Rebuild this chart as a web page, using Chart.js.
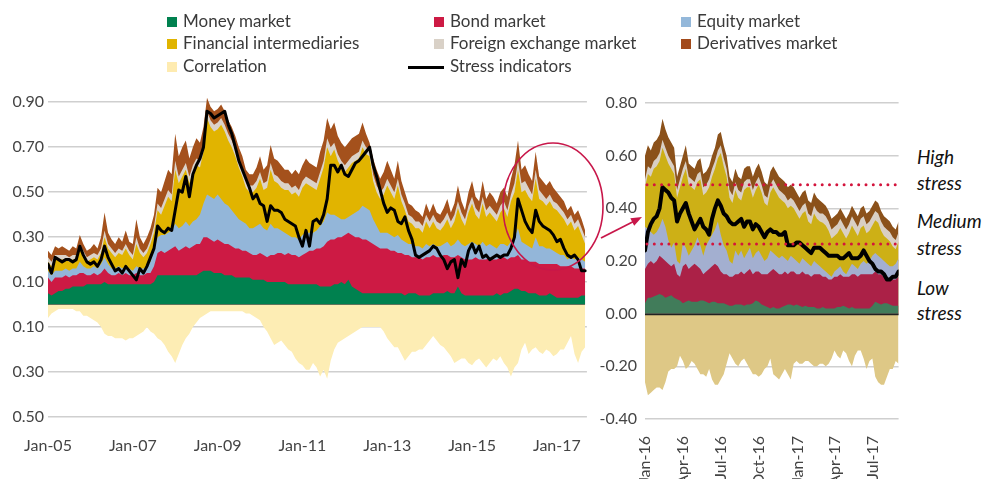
<!DOCTYPE html>
<html><head><meta charset="utf-8">
<script src="https://cdn.jsdelivr.net/npm/chart.js@4.4.1/dist/chart.umd.min.js"></script>
<style>
html,body{margin:0;padding:0;background:#fff;overflow:hidden;width:989px;height:482px;}
#wrap{position:relative;width:989px;height:482px;overflow:hidden;font-family:Lato,'Liberation Sans',Arial,sans-serif;color:#3c3c3c;}
#leftClip{position:absolute;left:12px;top:0;width:600px;height:482px;overflow:hidden;}
#cLeft{position:absolute;left:-22px;top:0;}
#cRight{position:absolute;left:590px;top:0;}
.lg{position:absolute;font-size:17px;line-height:20px;white-space:nowrap;color:#3a3a3a}
.sw{position:absolute;width:10px;height:10px}
.ann{position:absolute;left:917px;font-style:italic;font-size:19px;line-height:24px;color:#111;white-space:nowrap}
#ov{position:absolute;left:0;top:0;z-index:5}
</style></head>
<body><div id="wrap">
<div id="leftClip"><canvas id="cLeft" width="610" height="482"></canvas></div>
<canvas id="cRight" width="320" height="500"></canvas>
<svg id="ov" width="989" height="482" viewBox="0 0 989 482">
  <ellipse cx="553" cy="206.5" rx="50" ry="63.5" fill="none" stroke="#c8174a" stroke-width="1.6"/>
  <line x1="601" y1="238" x2="634" y2="221.2" stroke="#c8174a" stroke-width="1.8"/>
  <polygon points="642,217 630.3,218.3 634.2,225.8" fill="#c8174a"/>
</svg>
</div>
<script>
// ---------- Legend ----------
const seriesNames = ['Money market','Bond market','Equity market','Financial intermediaries','Foreign exchange market','Derivatives market','Correlation','Stress indicators'];
const legendColors = ['#00814f','#cd1a44','#94b8da','#e0b400','#d9d1c7','#a24a1b','#feebb0','#000000'];

// ---------- Left panel (monthly, Jan-05 .. Sep-17), stacked levels ----------
const leftTickMonths = [0,24,48,72,96,120,144];
const leftTickLabels = ['Jan-05','Jan-07','Jan-09','Jan-11','Jan-13','Jan-15','Jan-17'];
const leftYTicks = [-0.5,-0.3,-0.1,0.1,0.3,0.5,0.7,0.9];

const moneyLevel = [0.05,0.04,0.05,0.06,0.06,0.07,0.07,0.08,0.08,0.08,0.08,0.09,
 0.09,0.09,0.09,0.09,0.10,0.09,0.09,0.09,0.09,0.09,0.09,0.09,
 0.09,0.09,0.09,0.09,0.09,0.09,0.10,0.13,0.13,0.13,0.13,0.13,
 0.13,0.13,0.13,0.13,0.13,0.13,0.13,0.14,0.15,0.15,0.15,0.14,
 0.14,0.14,0.13,0.13,0.13,0.12,0.12,0.12,0.12,0.12,0.11,0.11,
 0.11,0.11,0.10,0.10,0.10,0.10,0.10,0.10,0.09,0.09,0.09,0.09,
 0.09,0.09,0.09,0.09,0.09,0.08,0.08,0.08,0.08,0.09,0.09,0.10,
 0.09,0.11,0.08,0.07,0.06,0.05,0.05,0.05,0.05,0.05,0.05,0.05,
 0.05,0.05,0.05,0.05,0.05,0.04,0.05,0.05,0.05,0.04,0.04,0.04,
 0.04,0.05,0.05,0.05,0.05,0.06,0.05,0.05,0.08,0.05,0.04,0.04,
 0.04,0.04,0.04,0.04,0.04,0.04,0.04,0.05,0.04,0.05,0.05,0.06,
 0.07,0.07,0.06,0.06,0.05,0.05,0.05,0.04,0.04,0.04,0.05,0.04,
 0.03,0.03,0.03,0.03,0.03,0.03,0.03,0.04,0.04];
const bondLevel = [0.12,0.10,0.12,0.12,0.12,0.13,0.12,0.13,0.13,0.14,0.14,0.13,
 0.13,0.14,0.13,0.14,0.16,0.14,0.13,0.13,0.14,0.13,0.14,0.13,
 0.13,0.14,0.13,0.13,0.14,0.14,0.17,0.23,0.24,0.23,0.24,0.25,
 0.26,0.24,0.25,0.26,0.25,0.26,0.27,0.27,0.30,0.30,0.29,0.28,
 0.29,0.28,0.27,0.27,0.26,0.25,0.25,0.24,0.24,0.23,0.22,0.22,
 0.23,0.22,0.21,0.22,0.22,0.23,0.23,0.22,0.23,0.22,0.22,0.21,
 0.22,0.23,0.24,0.24,0.25,0.25,0.26,0.28,0.29,0.29,0.30,0.30,
 0.31,0.32,0.31,0.30,0.30,0.29,0.29,0.28,0.27,0.26,0.25,0.25,
 0.25,0.24,0.24,0.23,0.23,0.22,0.22,0.21,0.21,0.21,0.20,0.21,
 0.21,0.22,0.21,0.21,0.22,0.22,0.21,0.21,0.22,0.21,0.20,0.20,
 0.20,0.21,0.20,0.20,0.20,0.21,0.20,0.20,0.21,0.21,0.20,0.21,
 0.21,0.22,0.20,0.20,0.19,0.19,0.19,0.18,0.18,0.18,0.18,0.18,
 0.18,0.17,0.17,0.17,0.17,0.16,0.16,0.16,0.16];
const equityLevel = [0.15,0.13,0.15,0.15,0.15,0.16,0.15,0.16,0.16,0.19,0.17,0.16,
 0.16,0.17,0.16,0.18,0.21,0.18,0.16,0.16,0.17,0.16,0.17,0.16,
 0.15,0.17,0.16,0.16,0.17,0.19,0.24,0.30,0.31,0.31,0.32,0.33,
 0.36,0.34,0.35,0.37,0.35,0.37,0.38,0.40,0.45,0.49,0.48,0.47,
 0.49,0.47,0.45,0.44,0.42,0.40,0.38,0.37,0.36,0.34,0.34,0.35,
 0.36,0.34,0.33,0.36,0.34,0.34,0.33,0.32,0.31,0.30,0.30,0.29,
 0.31,0.32,0.32,0.32,0.33,0.35,0.37,0.41,0.40,0.40,0.39,0.38,
 0.38,0.39,0.40,0.41,0.42,0.44,0.43,0.42,0.38,0.35,0.32,0.32,
 0.32,0.31,0.30,0.31,0.29,0.28,0.27,0.27,0.26,0.26,0.25,0.27,
 0.26,0.27,0.26,0.26,0.27,0.28,0.26,0.27,0.29,0.27,0.26,0.27,
 0.28,0.27,0.26,0.28,0.26,0.27,0.26,0.25,0.27,0.27,0.26,0.28,
 0.30,0.34,0.28,0.27,0.26,0.25,0.30,0.26,0.26,0.25,0.25,0.24,
 0.23,0.22,0.22,0.20,0.21,0.20,0.21,0.20,0.19];
const finIntLevel = [0.19,0.17,0.20,0.20,0.20,0.20,0.19,0.20,0.20,0.25,0.22,0.19,
 0.20,0.21,0.20,0.23,0.30,0.25,0.23,0.21,0.23,0.22,0.25,0.22,
 0.20,0.27,0.23,0.21,0.23,0.27,0.32,0.42,0.40,0.44,0.48,0.46,
 0.60,0.54,0.57,0.60,0.54,0.59,0.62,0.61,0.68,0.83,0.79,0.77,
 0.78,0.80,0.77,0.73,0.70,0.66,0.61,0.57,0.52,0.50,0.50,0.52,
 0.56,0.51,0.52,0.60,0.55,0.54,0.52,0.51,0.51,0.49,0.50,0.48,
 0.52,0.54,0.53,0.52,0.51,0.56,0.61,0.70,0.66,0.69,0.64,0.61,
 0.59,0.61,0.63,0.64,0.65,0.70,0.67,0.66,0.55,0.50,0.47,0.49,
 0.53,0.50,0.47,0.53,0.46,0.42,0.37,0.36,0.34,0.34,0.32,0.37,
 0.34,0.37,0.34,0.33,0.35,0.38,0.34,0.37,0.43,0.38,0.35,0.41,
 0.45,0.40,0.38,0.45,0.39,0.41,0.39,0.37,0.41,0.43,0.39,0.46,
 0.50,0.60,0.50,0.51,0.48,0.46,0.56,0.47,0.46,0.44,0.46,0.43,
 0.42,0.40,0.38,0.35,0.37,0.33,0.35,0.31,0.27];
const fxLevel = [0.21,0.19,0.22,0.22,0.22,0.22,0.21,0.22,0.22,0.27,0.24,0.21,
 0.22,0.23,0.22,0.25,0.33,0.27,0.25,0.23,0.25,0.24,0.27,0.24,
 0.22,0.30,0.25,0.23,0.25,0.29,0.35,0.45,0.43,0.47,0.51,0.49,
 0.64,0.57,0.60,0.63,0.57,0.62,0.65,0.64,0.72,0.86,0.82,0.80,
 0.81,0.83,0.80,0.76,0.73,0.69,0.64,0.60,0.55,0.53,0.53,0.55,
 0.59,0.54,0.55,0.63,0.58,0.57,0.55,0.54,0.54,0.52,0.53,0.51,
 0.55,0.57,0.56,0.55,0.54,0.59,0.64,0.74,0.70,0.72,0.67,0.64,
 0.62,0.64,0.66,0.67,0.68,0.73,0.70,0.69,0.58,0.53,0.50,0.52,
 0.56,0.53,0.50,0.56,0.49,0.45,0.40,0.39,0.37,0.37,0.35,0.40,
 0.37,0.40,0.37,0.36,0.38,0.41,0.37,0.40,0.46,0.41,0.38,0.44,
 0.48,0.43,0.41,0.48,0.42,0.44,0.42,0.40,0.44,0.46,0.42,0.49,
 0.54,0.64,0.54,0.55,0.52,0.49,0.60,0.51,0.49,0.47,0.49,0.46,
 0.45,0.43,0.41,0.38,0.40,0.36,0.38,0.34,0.30];
const derivLevel = [0.24,0.22,0.26,0.25,0.26,0.25,0.24,0.26,0.25,0.31,0.27,0.24,
 0.25,0.27,0.25,0.30,0.41,0.32,0.29,0.27,0.30,0.28,0.33,0.28,
 0.27,0.38,0.30,0.27,0.30,0.34,0.40,0.52,0.50,0.55,0.60,0.58,
 0.76,0.66,0.70,0.73,0.65,0.70,0.74,0.72,0.79,0.92,0.88,0.86,
 0.87,0.89,0.86,0.82,0.79,0.75,0.70,0.66,0.60,0.58,0.58,0.61,
 0.66,0.60,0.62,0.71,0.65,0.64,0.62,0.60,0.60,0.58,0.60,0.58,
 0.62,0.65,0.63,0.62,0.61,0.68,0.73,0.83,0.78,0.81,0.75,0.72,
 0.70,0.72,0.74,0.75,0.76,0.81,0.76,0.72,0.65,0.60,0.56,0.59,
 0.64,0.60,0.56,0.64,0.55,0.50,0.45,0.44,0.42,0.41,0.39,0.45,
 0.41,0.45,0.41,0.40,0.43,0.47,0.41,0.45,0.53,0.46,0.42,0.50,
 0.55,0.48,0.46,0.55,0.47,0.50,0.48,0.45,0.50,0.52,0.48,0.56,
 0.62,0.73,0.60,0.62,0.58,0.55,0.68,0.57,0.55,0.53,0.55,0.52,
 0.50,0.48,0.46,0.42,0.44,0.40,0.42,0.38,0.33];
const correlation = [-0.06,-0.04,-0.03,-0.02,-0.02,-0.02,-0.02,-0.02,-0.03,-0.03,-0.05,-0.05,
 -0.06,-0.07,-0.08,-0.10,-0.13,-0.14,-0.14,-0.15,-0.15,-0.15,-0.16,-0.15,
 -0.15,-0.14,-0.13,-0.12,-0.10,-0.12,-0.13,-0.15,-0.16,-0.18,-0.21,-0.23,
 -0.26,-0.22,-0.18,-0.15,-0.13,-0.10,-0.08,-0.06,-0.05,-0.04,-0.03,-0.03,
 -0.03,-0.03,-0.03,-0.03,-0.03,-0.03,-0.03,-0.03,-0.04,-0.04,-0.05,-0.06,
 -0.07,-0.10,-0.12,-0.15,-0.18,-0.17,-0.16,-0.18,-0.20,-0.21,-0.24,-0.26,
 -0.27,-0.29,-0.29,-0.26,-0.28,-0.32,-0.29,-0.33,-0.25,-0.20,-0.17,-0.16,
 -0.15,-0.14,-0.13,-0.12,-0.11,-0.10,-0.10,-0.10,-0.10,-0.10,-0.10,-0.12,
 -0.15,-0.17,-0.19,-0.19,-0.22,-0.25,-0.23,-0.21,-0.21,-0.20,-0.20,-0.18,
 -0.16,-0.14,-0.16,-0.18,-0.19,-0.21,-0.23,-0.26,-0.25,-0.24,-0.24,-0.26,
 -0.27,-0.25,-0.24,-0.26,-0.28,-0.26,-0.24,-0.25,-0.23,-0.26,-0.28,-0.32,
 -0.28,-0.26,-0.20,-0.17,-0.22,-0.20,-0.19,-0.21,-0.22,-0.20,-0.21,-0.23,
 -0.22,-0.20,-0.20,-0.17,-0.14,-0.22,-0.26,-0.21,-0.19];
const stressIndicator = [0.18,0.14,0.21,0.20,0.19,0.20,0.20,0.19,0.20,0.26,0.22,0.19,
 0.18,0.19,0.17,0.20,0.26,0.21,0.18,0.15,0.16,0.14,0.17,0.15,
 0.13,0.11,0.16,0.14,0.17,0.21,0.25,0.35,0.33,0.32,0.34,0.33,
 0.42,0.51,0.50,0.57,0.48,0.58,0.62,0.65,0.70,0.86,0.85,0.83,
 0.84,0.85,0.86,0.80,0.76,0.70,0.64,0.60,0.56,0.52,0.47,0.49,
 0.45,0.44,0.37,0.44,0.42,0.42,0.41,0.38,0.37,0.36,0.35,0.30,
 0.26,0.33,0.26,0.37,0.38,0.36,0.40,0.47,0.62,0.62,0.59,0.62,
 0.58,0.57,0.60,0.63,0.64,0.66,0.68,0.70,0.62,0.57,0.51,0.45,
 0.41,0.43,0.42,0.37,0.36,0.39,0.33,0.29,0.22,0.21,0.22,0.23,
 0.24,0.26,0.25,0.22,0.20,0.16,0.19,0.20,0.12,0.20,0.17,0.24,
 0.27,0.23,0.26,0.21,0.22,0.20,0.21,0.22,0.21,0.22,0.22,0.25,
 0.30,0.47,0.42,0.37,0.34,0.32,0.42,0.37,0.35,0.34,0.33,0.31,
 0.28,0.29,0.25,0.22,0.21,0.22,0.20,0.15,0.15];
const leftColors = ['#00814f','#cd1a44','#93b6d9','#e1b400','#dbd3c9','#a4511c','#fdedb4'];

// ---------- Right panel (weekly, Jan-16 .. Aug-17) ----------
const zoomTickDays = [0,91,182,274,366,456,547];
const zoomTickLabels = ['Jan-16','Apr-16','Jul-16','Oct-16','Jan-17','Apr-17','Jul-17'];
const zoomYTicks = [-0.4,-0.2,0,0.2,0.4,0.6,0.8];
const stressThresholds = [0.265, 0.49];

const zMoney = [0.04,0.06,0.06,0.065,0.07,0.075,0.07,0.06,0.065,0.07,
 0.06,0.055,0.05,0.04,0.045,0.05,0.045,0.045,0.045,0.05,
 0.05,0.045,0.04,0.045,0.045,0.04,0.04,0.04,0.035,0.03,
 0.03,0.035,0.035,0.035,0.03,0.035,0.035,0.04,0.05,0.045,
 0.035,0.03,0.025,0.02,0.025,0.02,0.02,0.025,0.03,0.035,
 0.035,0.03,0.035,0.03,0.025,0.03,0.025,0.025,0.025,0.02,
 0.02,0.025,0.02,0.02,0.02,0.02,0.025,0.025,0.03,0.025,
 0.02,0.025,0.02,0.02,0.02,0.02,0.02,0.02,0.03,0.045,
 0.04,0.035,0.04,0.04,0.035,0.03,0.03,0.03];
const zBond = [0.17,0.19,0.20,0.19,0.20,0.22,0.21,0.20,0.19,0.18,
 0.19,0.15,0.14,0.18,0.19,0.17,0.18,0.19,0.18,0.17,
 0.15,0.16,0.17,0.18,0.19,0.18,0.16,0.15,0.15,0.14,
 0.14,0.15,0.15,0.16,0.15,0.16,0.17,0.15,0.16,0.16,
 0.15,0.15,0.15,0.16,0.17,0.16,0.15,0.15,0.16,0.15,
 0.16,0.16,0.15,0.15,0.16,0.15,0.15,0.14,0.15,0.15,
 0.15,0.14,0.14,0.13,0.13,0.14,0.14,0.15,0.14,0.14,
 0.14,0.15,0.15,0.14,0.15,0.15,0.15,0.15,0.15,0.16,
 0.15,0.15,0.14,0.14,0.13,0.13,0.13,0.14];
const zEquity = [0.33,0.32,0.31,0.30,0.31,0.33,0.36,0.33,0.28,0.25,
 0.27,0.20,0.19,0.27,0.25,0.22,0.24,0.26,0.29,0.26,
 0.22,0.26,0.28,0.30,0.32,0.35,0.30,0.26,0.24,0.20,
 0.19,0.24,0.22,0.24,0.21,0.23,0.25,0.21,0.23,0.24,
 0.22,0.20,0.21,0.24,0.23,0.22,0.21,0.22,0.21,0.20,
 0.22,0.21,0.20,0.19,0.21,0.20,0.19,0.18,0.20,0.19,
 0.18,0.17,0.16,0.15,0.14,0.16,0.17,0.18,0.16,0.15,
 0.17,0.19,0.18,0.17,0.19,0.20,0.19,0.20,0.22,0.23,
 0.22,0.21,0.20,0.19,0.18,0.18,0.19,0.21];
const zFinInt = [0.48,0.53,0.52,0.55,0.56,0.58,0.63,0.60,0.57,0.55,
 0.53,0.44,0.48,0.52,0.55,0.49,0.48,0.47,0.50,0.51,
 0.45,0.46,0.48,0.52,0.55,0.59,0.61,0.56,0.52,0.44,
 0.42,0.47,0.44,0.43,0.47,0.48,0.48,0.44,0.47,0.49,
 0.46,0.42,0.41,0.46,0.48,0.46,0.44,0.43,0.42,0.40,
 0.41,0.40,0.38,0.36,0.38,0.39,0.35,0.34,0.38,0.36,
 0.35,0.345,0.335,0.315,0.285,0.295,0.305,0.325,0.305,0.285,
 0.305,0.335,0.315,0.295,0.325,0.335,0.305,0.315,0.335,0.355,
 0.345,0.315,0.295,0.285,0.275,0.255,0.245,0.275];
const zFx = [0.51,0.56,0.55,0.58,0.59,0.61,0.66,0.63,0.60,0.58,
 0.56,0.47,0.51,0.55,0.58,0.52,0.51,0.50,0.53,0.54,
 0.48,0.49,0.51,0.55,0.58,0.62,0.64,0.59,0.55,0.47,
 0.45,0.50,0.47,0.46,0.50,0.51,0.51,0.47,0.50,0.52,
 0.49,0.45,0.44,0.49,0.51,0.49,0.47,0.46,0.45,0.43,
 0.44,0.43,0.41,0.39,0.41,0.42,0.38,0.37,0.41,0.39,
 0.38,0.38,0.37,0.35,0.32,0.33,0.34,0.36,0.34,0.32,
 0.34,0.37,0.35,0.33,0.36,0.37,0.34,0.35,0.37,0.39,
 0.38,0.35,0.33,0.32,0.31,0.29,0.28,0.31];
const zDeriv = [0.60,0.64,0.62,0.65,0.66,0.68,0.74,0.70,0.67,0.65,
 0.63,0.52,0.56,0.60,0.64,0.57,0.56,0.55,0.58,0.59,
 0.53,0.54,0.56,0.60,0.63,0.68,0.69,0.64,0.60,0.52,
 0.50,0.55,0.52,0.51,0.55,0.56,0.56,0.52,0.55,0.57,
 0.54,0.50,0.49,0.54,0.56,0.54,0.52,0.51,0.50,0.48,
 0.49,0.48,0.46,0.44,0.46,0.47,0.43,0.42,0.46,0.44,
 0.43,0.42,0.41,0.39,0.36,0.37,0.38,0.40,0.38,0.36,
 0.38,0.41,0.39,0.37,0.40,0.41,0.38,0.39,0.41,0.43,
 0.42,0.39,0.37,0.36,0.35,0.33,0.32,0.35];
const zCorrelation = [-0.26,-0.31,-0.30,-0.29,-0.28,-0.28,-0.29,-0.26,-0.22,-0.21,
 -0.21,-0.20,-0.16,-0.18,-0.21,-0.20,-0.18,-0.19,-0.21,-0.23,
 -0.23,-0.24,-0.21,-0.25,-0.27,-0.27,-0.25,-0.23,-0.19,-0.15,
 -0.17,-0.19,-0.20,-0.18,-0.17,-0.19,-0.21,-0.23,-0.23,-0.24,
 -0.23,-0.21,-0.20,-0.17,-0.23,-0.24,-0.25,-0.23,-0.21,-0.23,
 -0.25,-0.19,-0.18,-0.19,-0.19,-0.18,-0.18,-0.19,-0.20,-0.20,
 -0.19,-0.19,-0.20,-0.19,-0.17,-0.14,-0.16,-0.17,-0.14,-0.15,
 -0.18,-0.20,-0.16,-0.14,-0.14,-0.17,-0.21,-0.18,-0.17,-0.24,
 -0.26,-0.27,-0.27,-0.24,-0.21,-0.21,-0.18,-0.19];
const zStress = [0.24,0.31,0.34,0.36,0.37,0.40,0.48,0.47,0.46,0.44,
 0.43,0.35,0.38,0.40,0.42,0.38,0.35,0.32,0.34,0.36,
 0.33,0.32,0.30,0.36,0.40,0.43,0.41,0.38,0.37,0.35,
 0.34,0.34,0.35,0.36,0.33,0.35,0.35,0.32,0.34,0.33,
 0.31,0.29,0.31,0.32,0.31,0.31,0.30,0.30,0.31,0.26,
 0.26,0.26,0.27,0.27,0.26,0.25,0.24,0.23,0.25,0.25,
 0.25,0.24,0.23,0.22,0.22,0.22,0.22,0.21,0.21,0.22,
 0.23,0.21,0.21,0.21,0.22,0.24,0.22,0.20,0.19,0.17,
 0.16,0.16,0.15,0.13,0.13,0.14,0.14,0.16];
const zoomColors = ['#417c5a','#ab2147','#a3afd0','#cdb016','#d9cfc4','#8b511a','#dec886'];

// ---------- helpers ----------
const FONT = "Lato, 'Liberation Sans', Arial, sans-serif";
Chart.defaults.font.family = FONT;
Chart.defaults.color = '#444';

function buildSets(levels, corr, stress, colors, lw){
  const sets = levels.map((arr,i)=>({
    label: seriesNames[i], data: arr, fill: 'origin', order: 1,
    backgroundColor: colors[i], borderColor: 'rgba(0,0,0,0)', borderWidth: 0, pointRadius: 0
  }));
  sets.push({label: seriesNames[6], data: corr, fill: 'origin', order: 1,
    backgroundColor: colors[6], borderColor: 'rgba(0,0,0,0)', borderWidth: 0, pointRadius: 0});
  sets.push({label: seriesNames[7], data: stress, fill: false, order: 0,
    borderColor: '#000', borderWidth: lw, pointRadius: 0, borderJoinStyle: 'round', borderCapStyle: 'round'});
  return sets;
}
const fmt = v => (Math.abs(v) < 1e-9 ? 0 : v).toFixed(2);

// ---------- Left chart ----------
const monthIndex = moneyLevel.map((_, i) => i);
new Chart(document.getElementById('cLeft'), {
  type: 'line',
  data: { labels: monthIndex,
    datasets: buildSets([moneyLevel,bondLevel,equityLevel,finIntLevel,fxLevel,derivLevel], correlation, stressIndicator, leftColors, 3) },
  options: {
    responsive: false, animation: false, events: [],
    layout: { padding: { top: 91, right: 4, bottom: 0, left: 0 } },
    elements: { line: { tension: 0 } },
    plugins: { legend: { display: false }, tooltip: { enabled: false } },
    scales: {
      x: { type: 'linear', min: 0, max: 152.5,
        grid: { display: false, drawTicks: false }, border: { display: false },
        afterBuildTicks: s => { s.ticks = leftTickMonths.map(v => ({ value: v })); },
        afterFit: s => { s.height = 65; },
        ticks: { autoSkip: false, maxRotation: 0, minRotation: 0, padding: 19, font: { size: 16 }, color: '#444',
          callback: v => leftTickLabels[leftTickMonths.indexOf(v)] } },
      y: { min: -0.5, max: 0.95,
        grid: { color: '#cfcfcf', lineWidth: 1.5, drawTicks: false }, border: { display: false },
        afterBuildTicks: s => { s.ticks = leftYTicks.map(v => ({ value: v })); },
        afterFit: s => { s.width = 58; },
        ticks: { padding: 4, font: { size: 16 }, color: '#444', callback: fmt } }
    }
  }
});

// ---------- Right chart ----------
const zoomOverlay = {
  id: 'zoomOverlay',
  afterDatasetsDraw(chart){
    const { ctx, chartArea: a, scales: { y } } = chart;
    ctx.save();
    const y0 = Math.round(y.getPixelForValue(0)) + 0.5;
    ctx.strokeStyle = '#222'; ctx.lineWidth = 1.5;
    ctx.beginPath(); ctx.moveTo(a.left, y0); ctx.lineTo(a.right, y0); ctx.stroke();
    ctx.strokeStyle = '#d3143c'; ctx.lineWidth = 3; ctx.lineCap = 'round'; ctx.setLineDash([0, 7.3]);
    stressThresholds.forEach(v => {
      const py = y.getPixelForValue(v);
      ctx.beginPath(); ctx.moveTo(a.left + 2, py); ctx.lineTo(a.right, py); ctx.stroke();
    });
    ctx.restore();
  }
};
const weekDays = zMoney.map((_, i) => i * 7);
new Chart(document.getElementById('cRight'), {
  type: 'line',
  data: { labels: weekDays,
    datasets: buildSets([zMoney,zBond,zEquity,zFinInt,zFx,zDeriv], zCorrelation, zStress, zoomColors, 4) },
  options: {
    responsive: false, animation: false, events: [],
    layout: { padding: { top: 103, right: 10, bottom: 21, left: 0 } },
    elements: { line: { tension: 0 } },
    plugins: { legend: { display: false }, tooltip: { enabled: false } },
    scales: {
      x: { type: 'linear', min: 0, max: 609,
        grid: { display: false, drawTicks: false }, border: { display: false },
        afterBuildTicks: s => { s.ticks = zoomTickDays.map(v => ({ value: v })); },
        afterFit: s => { s.height = 60; },
        ticks: { autoSkip: false, maxRotation: 90, minRotation: 90, padding: 17, font: { size: 16 }, color: '#444',
          callback: v => zoomTickLabels[zoomTickDays.indexOf(v)] } },
      y: { min: -0.4, max: 0.8,
        grid: { color: '#cfcfcf', lineWidth: 1.5, drawTicks: false }, border: { display: false },
        afterBuildTicks: s => { s.ticks = zoomYTicks.map(v => ({ value: v })); },
        afterFit: s => { s.width = 55; },
        ticks: { padding: 8, font: { size: 16 }, color: '#444', callback: fmt } }
    }
  },
  plugins: [zoomOverlay]
});

// ---------- HTML legend & annotations ----------
const wrap = document.getElementById('wrap');
const colX = [[167,183],[434,450],[681,697]];
const rowTop = [10.5, 32.5, 55.5];
const rowSw = [17, 39, 62];
const legendLayout = [[0,0,0],[1,0,1],[2,0,2],[3,1,0],[4,1,1],[5,1,2],[6,2,0],[7,2,1]];
legendLayout.forEach(([si, r, c]) => {
  if (si === 7) {
    const ln = document.createElement('div');
    ln.style.cssText = `position:absolute;left:408px;top:${rowSw[r]+3.5}px;width:36px;height:3px;background:#000`;
    wrap.appendChild(ln);
  } else {
    const sw = document.createElement('div');
    sw.className = 'sw';
    sw.style.cssText = `left:${colX[c][0]}px;top:${rowSw[r]}px;background:${legendColors[si]}`;
    wrap.appendChild(sw);
  }
  const t = document.createElement('div');
  t.className = 'lg';
  t.style.left = colX[c][1] + 'px'; t.style.top = rowTop[r] + 'px';
  t.textContent = seriesNames[si];
  wrap.appendChild(t);
});
const annotations = [['High',144.6],['stress',171.1],['Medium',208.6],['stress',235.6],['Low',275.6],['stress',300.6]];
annotations.forEach(([txt, top]) => {
  const d = document.createElement('div');
  d.className = 'ann'; d.style.top = top + 'px'; d.textContent = txt;
  wrap.appendChild(d);
});
</script>
</body></html>
